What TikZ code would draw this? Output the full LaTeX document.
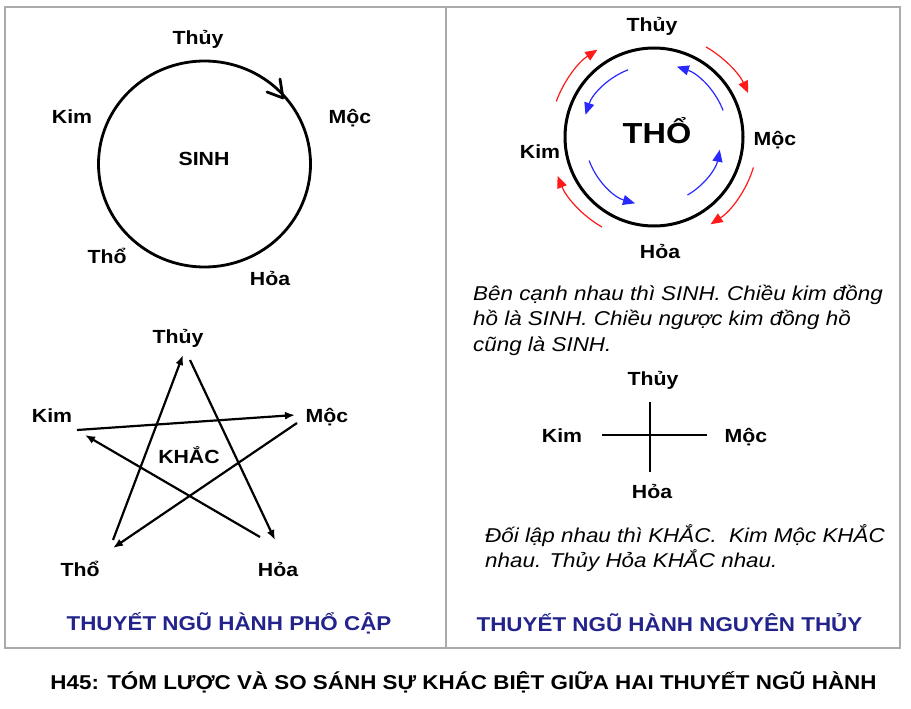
\documentclass[tikz,border=0pt]{standalone}
\usepackage{fontspec}
\setmainfont{Liberation Sans}[FakeStretch=1.12]
\usetikzlibrary{arrows.meta}
\definecolor{framegray}{RGB}{170,170,170}
\definecolor{titleblue}{RGB}{35,35,140}
\definecolor{arrred}{RGB}{255,25,25}
\definecolor{arrblue}{RGB}{40,40,255}
\tikzset{
 lbl/.style={font=\fontsize{19}{22}\selectfont\bfseries, anchor=base, inner sep=0pt},
 bigl/.style={font=\fontsize{29}{33}\selectfont\bfseries, anchor=base, inner sep=0pt},
 itx/.style={font=\fontsize{20}{24}\selectfont\itshape, anchor=base west, inner sep=0pt},
 ttl/.style={font=\fontsize{20}{24}\selectfont\bfseries, text=titleblue, anchor=base, inner sep=0pt},
 capt/.style={font=\fontsize{20}{24}\selectfont\bfseries, anchor=base, inner sep=0pt},
 framel/.style={draw=framegray, line width=1.8pt},
 ring/.style={draw=black, line width=2.8pt},
 kline/.style={draw=black, line width=2.2pt, -{Latex[length=10pt,width=8pt]}},
 redarr/.style={draw=arrred, line width=1.2pt, -{Triangle[length=12pt,width=10pt]}},
 bluearr/.style={draw=arrblue, line width=1.2pt, -{Triangle[length=12pt,width=10pt]}},
 xline/.style={draw=black, line width=2.2pt},
}
\begin{document}
\begin{tikzpicture}[x=1pt,y=-1pt]
\fill[white] (0,0) rectangle (911,709);
\useasboundingbox (0,0) rectangle (911,709);
% frame
\draw[framel] (5,7) rectangle (900,648);
\draw[framel] (446,7) -- (446,648);

% ---- top-left: SINH circle
\coordinate (c1) at (204.5,164);
\draw[ring] (c1) ellipse [x radius=106, y radius=103];
\coordinate (chev) at (283,98);
\draw[line width=2.8pt, line cap=round, line join=round] (chev) -- ++(-3,-19) (chev) -- ++(-16,-6);
\node[lbl] (t1) at (198,45) {Thủy};
\node[lbl] (k1) at (72,123) {Kim};
\node[lbl] (m1) at (350,123) {Mộc};
\node[lbl] (s1) at (204,165) {SINH};
\node[lbl] (th1) at (107,263) {Thổ};
\node[lbl] (h1) at (270,285) {Hỏa};

% ---- top-right: THO circle
\coordinate (c2) at (654,137);
\draw[draw=black, line width=3pt] (c2) circle [radius=89];
\node[lbl] (t2) at (652,32) {Thủy};
\node[lbl] (k2) at (540,158) {Kim};
\node[lbl] (m2) at (775,145) {Mộc};
\node[lbl] (h2) at (660,258) {Hỏa};
\node[bigl] (tho) at (657,143) {THỔ};
% red clockwise arrows
\draw[redarr] (c2) ++(-160:104) arc [start angle=-160, end angle=-123, radius=104];
\draw[redarr] (c2) ++(-60:104) arc [start angle=-60, end angle=-25, radius=104];
\draw[redarr] (c2) ++(17:104) arc [start angle=17, end angle=57, radius=104];
\draw[redarr] (c2) ++(120:104) arc [start angle=120, end angle=158, radius=104];
% blue counter-clockwise arrows
\draw[bluearr] (c2) ++(-111:72) arc [start angle=-111, end angle=-162, radius=72];
\draw[bluearr] (c2) ++(160:69) arc [start angle=160, end angle=106, radius=69];
\draw[bluearr] (c2) ++(60:67) arc [start angle=60, end angle=11, radius=67];
\draw[bluearr] (c2) ++(-21:74) arc [start angle=-21, end angle=-72, radius=74];

% ---- right text 1
\node[itx] (p1) at (473,300) {Bên cạnh nhau thì SINH. Chiều kim đồng};
\node[itx] (p2) at (473,325.5) {hồ là SINH. Chiều ngược kim đồng hồ};
\node[itx] (p3) at (473,351) {cũng là SINH.};

% ---- cross
\node[lbl] (t3) at (653,385) {Thủy};
\node[lbl] (k3) at (562,442) {Kim};
\node[lbl] (m3) at (746,442) {Mộc};
\node[lbl] (h3) at (652,498) {Hỏa};
\coordinate (xl) at (602,435);
\coordinate (xr) at (707,435);
\coordinate (xt) at (650,402);
\coordinate (xb) at (650,472);
\draw[xline] (xl) -- (xr);
\draw[xline] (xt) -- (xb);

% ---- right text 2
\node[itx] (q1) at (485,542) {Đối lập nhau thì KHẮC.\ \ Kim Mộc KHẮC};
\node[itx] (q2) at (485,567.5) {nhau. Thủy Hỏa KHẮC nhau.};

% ---- pentagram
\node[lbl] (t4) at (178,343) {Thủy};
\node[lbl] (k4) at (52,422) {Kim};
\node[lbl] (m4) at (327,422) {Mộc};
\node[lbl] (kh) at (189,463) {KHẮC};
\node[lbl] (th4) at (80,576) {Thổ};
\node[lbl] (h4) at (278,576) {Hỏa};
\coordinate (kA) at (77,430);   \coordinate (mA) at (295,415);
\coordinate (mB) at (297,423);  \coordinate (thB) at (113,548);
\coordinate (thC) at (113,540); \coordinate (tC) at (183,355);
\coordinate (tD) at (190,360);  \coordinate (hD) at (275,540);
\coordinate (hE) at (260,537);  \coordinate (kE) at (85,435);
\draw[kline] (kA) -- (mA);
\draw[kline] (mB) -- (thB);
\draw[kline] (thC) -- (tC);
\draw[kline] (tD) -- (hD);
\draw[kline] (hE) -- (kE);

% ---- titles
\node[ttl] (tl) at (229,630) {THUYẾT NGŨ HÀNH PHỔ CẬP};
\node[ttl] (tr) at (669.5,631) {THUYẾT NGŨ HÀNH NGUYÊN THỦY};
\node[capt] (cp) at (463.5,689.5) {H45: TÓM LƯỢC VÀ SO SÁNH SỰ KHÁC BIỆT GIỮA HAI THUYẾT NGŨ HÀNH};
\end{tikzpicture}
\end{document}
